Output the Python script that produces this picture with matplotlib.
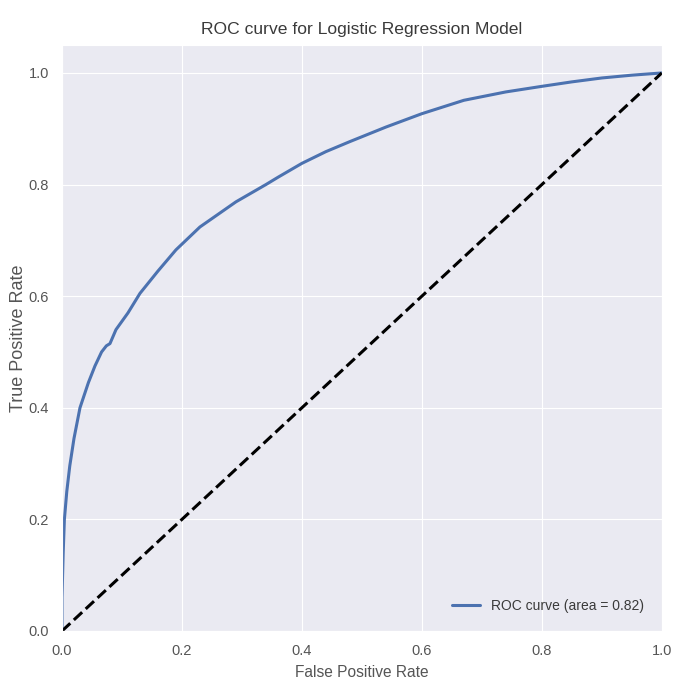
import numpy as np
import matplotlib
matplotlib.use("Agg")
import matplotlib.pyplot as plt
import seaborn as sns

# ROC points
fpr = [0.0, 0.0, 0.002, 0.004, 0.008, 0.013, 0.02, 0.03, 0.044, 0.055,
       0.066, 0.074, 0.08, 0.09, 0.11, 0.13, 0.16, 0.19, 0.23, 0.29,
       0.34, 0.36, 0.40, 0.44, 0.48, 0.54, 0.60, 0.67, 0.74, 0.80,
       0.85, 0.90, 0.95, 1.0]
tpr = [0.0, 0.06, 0.14, 0.20, 0.25, 0.296, 0.345, 0.40, 0.445, 0.475,
       0.50, 0.511, 0.515, 0.54, 0.57, 0.605, 0.645, 0.683, 0.724, 0.769,
       0.800, 0.813, 0.838, 0.859, 0.877, 0.903, 0.927, 0.951, 0.966, 0.976,
       0.984, 0.991, 0.996, 1.0]
roc_auc = 0.82
chance = [0.0, 1.0]
ticks = [0.0, 0.2, 0.4, 0.6, 0.8, 1.0]

sns.set_style("darkgrid")
plt.rcParams['font.family'] = ['Liberation Sans', 'DejaVu Sans']

fig = plt.figure(figsize=(6.76, 6.93), dpi=100)
ax = fig.add_axes([0.0917, 0.0895, 0.8873, 0.8455])

ax.plot(fpr, tpr, color='#4C72B0', linewidth=2.2,
        label='ROC curve (area = %0.2f)' % roc_auc)
ax.plot(chance, chance, 'k--', linewidth=2.2)

ax.set_xlim([0.0, 1.0])
ax.set_ylim([0.0, 1.05])
ax.set_xticks(ticks)
ax.set_yticks(ticks)
ax.tick_params(labelsize=10.5, colors='#555555', pad=6)
ax.set_xlabel('False Positive Rate', fontsize=11.2, color='#555555', labelpad=5)
ax.set_ylabel('True Positive Rate', fontsize=13, color='#555555')
ax.yaxis.set_label_coords(-0.058, 0.5)
ax.set_title('ROC curve for Logistic Regression Model', fontsize=12.6,
             color='#3a3a3a', pad=8)
leg = ax.legend(loc='lower right', fontsize=10, frameon=False,
                borderaxespad=0.9)
for t in leg.get_texts():
    t.set_color('#3a3a3a')

fig.savefig('out.png', dpi=100)
